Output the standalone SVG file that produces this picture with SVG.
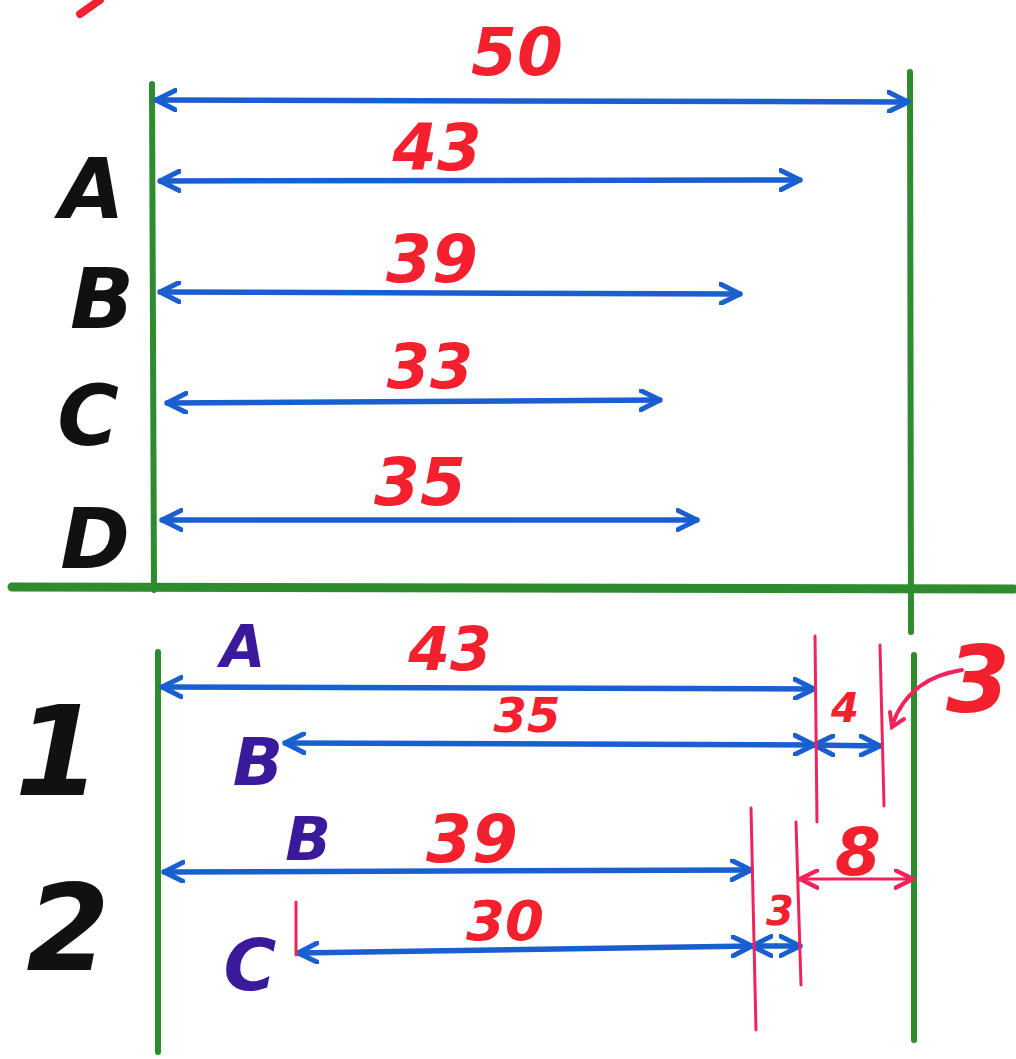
<svg xmlns="http://www.w3.org/2000/svg" width="1016" height="1059" viewBox="0 0 1016 1059">
<style>
.g{stroke:#2e8b2e;stroke-width:6;fill:none;stroke-linecap:round}
.b{stroke:#1a5fd0;stroke-width:5.5;fill:none;stroke-linecap:round}
.r{stroke:#f0245a;stroke-width:3;fill:none;stroke-linecap:round}
.num{font-family:"DejaVu Sans",sans-serif;font-weight:bold;font-style:oblique;fill:#f5202e;text-anchor:middle}
.blk{font-family:"DejaVu Sans",sans-serif;font-weight:bold;font-style:oblique;fill:#111;text-anchor:middle}
.pur{font-family:"DejaVu Sans",sans-serif;font-weight:bold;font-style:oblique;fill:#3a1a9a;text-anchor:middle}
</style>
<defs>
<marker id="ah" viewBox="0 0 12 12" refX="11" refY="6" markerWidth="4.2" markerHeight="4.2" orient="auto-start-reverse" markerUnits="strokeWidth">
<path d="M1,1 L11,6 L1,11" fill="none" stroke="#1a5fd0" stroke-width="2.6" stroke-linecap="round" stroke-linejoin="round"/>
</marker>
<marker id="ahr" viewBox="0 0 12 12" refX="11" refY="6" markerWidth="7" markerHeight="7" orient="auto-start-reverse" markerUnits="strokeWidth">
<path d="M1,1 L11,6 L1,11" fill="none" stroke="#f0245a" stroke-width="2.4" stroke-linecap="round" stroke-linejoin="round"/>
</marker>
</defs>
<rect width="1016" height="1059" fill="#ffffff"/>
<path d="M80,14 L100,0" stroke="#f5202e" stroke-width="8" stroke-linecap="round"/>
<g id="frame">
<line class="g" x1="152" y1="84" x2="154" y2="590"/>
<line class="g" x1="910" y1="72" x2="911" y2="632"/>
<line class="g" x1="158" y1="652" x2="158" y2="1052"/>
<line class="g" x1="914" y1="655" x2="914" y2="1040"/>
<line x1="12" y1="587" x2="1014" y2="589" stroke="#2e8b2e" stroke-width="9" stroke-linecap="round"/>
</g>
<g id="labels-top">
<text class="blk" x="92" y="218" font-size="84">A</text>
<text class="blk" x="102" y="328" font-size="84">B</text>
<text class="blk" x="88" y="445" font-size="84">C</text>
<text class="blk" x="95" y="568" font-size="84">D</text>
<text class="blk" x="58" y="795" font-size="124">1</text>
<text class="blk" x="68" y="970" font-size="120">2</text>
</g>
<g id="labels-bottom">
<text class="pur" x="243" y="667" font-size="58">A</text>
<text class="pur" x="258" y="785" font-size="66">B</text>
<text class="pur" x="308" y="860" font-size="60">B</text>
<text class="pur" x="250" y="990" font-size="72">C</text>
</g>
<g id="numbers">
<text class="num" x="517" y="75" font-size="66">50</text>
<text class="num" x="437" y="170" font-size="64">43</text>
<text class="num" x="432" y="282" font-size="66">39</text>
<text class="num" x="430" y="388" font-size="62">33</text>
<text class="num" x="420" y="505" font-size="66">35</text>
<text class="num" x="450" y="670" font-size="60">43</text>
<text class="num" x="527" y="732" font-size="48">35</text>
<text class="num" x="845" y="722" font-size="40">4</text>
<text class="num" x="978" y="712" font-size="92">3</text>
<text class="num" x="472" y="862" font-size="66">39</text>
<text class="num" x="505" y="940" font-size="56">30</text>
<text class="num" x="780" y="925" font-size="40">3</text>
<text class="num" x="858" y="875" font-size="66">8</text>
</g>
<g id="connectors">
<line class="b" x1="156" y1="100" x2="908" y2="102" marker-start="url(#ah)" marker-end="url(#ah)"/>
<line class="b" x1="160" y1="181" x2="800" y2="180" marker-start="url(#ah)" marker-end="url(#ah)"/>
<line class="b" x1="160" y1="292" x2="740" y2="294" marker-start="url(#ah)" marker-end="url(#ah)"/>
<line class="b" x1="167" y1="403" x2="660" y2="400" marker-start="url(#ah)" marker-end="url(#ah)"/>
<line class="b" x1="162" y1="520" x2="697" y2="520" marker-start="url(#ah)" marker-end="url(#ah)"/>
<line class="b" x1="162" y1="687" x2="814" y2="689" marker-start="url(#ah)" marker-end="url(#ah)"/>
<line class="b" x1="285" y1="743" x2="814" y2="745" marker-start="url(#ah)" marker-end="url(#ah)"/>
<line class="b" x1="814" y1="745" x2="880" y2="746" marker-start="url(#ah)" marker-end="url(#ah)"/>
<line class="b" x1="164" y1="872" x2="751" y2="870" marker-start="url(#ah)" marker-end="url(#ah)"/>
<line class="b" x1="298" y1="953" x2="752" y2="946" marker-start="url(#ah)" marker-end="url(#ah)"/>
<line class="b" x1="752" y1="946" x2="800" y2="946" marker-start="url(#ah)" marker-end="url(#ah)"/>
<line class="r" x1="815" y1="636" x2="817" y2="822"/>
<line class="r" x1="880" y1="645" x2="884" y2="806"/>
<line class="r" x1="751" y1="808" x2="756" y2="1030"/>
<line class="r" x1="796" y1="822" x2="801" y2="985"/>
<line class="r" x1="296" y1="902" x2="296" y2="955"/>
<line class="r" x1="800" y1="879" x2="913" y2="879" marker-start="url(#ahr)" marker-end="url(#ahr)"/>
<path d="M962,670 C930,675 905,690 892,725" stroke="#f0245a" stroke-width="4" fill="none" stroke-linecap="round"/>
<path d="M890,712 L892,727 L904,719" stroke="#f0245a" stroke-width="4" fill="none" stroke-linecap="round"/>
</g>
</svg>
